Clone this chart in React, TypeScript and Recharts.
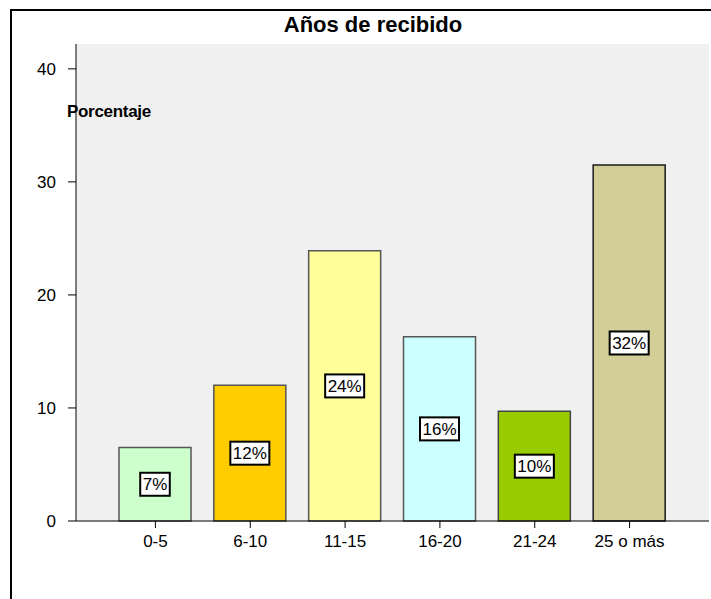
import { BarChart, Bar, XAxis, YAxis, CartesianGrid, Cell, LabelList } from 'recharts';

const categories = ['0-5', '6-10', '11-15', '16-20', '21-24', '25 o más'];
const percentages = [6.5, 12.0, 23.9, 16.3, 9.7, 31.5];
const barColors = ['#CCFFCC', '#FFCC00', '#FFFF99', '#CCFFFF', '#99CC00', '#D3CE97'];
const barStrokes = ['#555555', '#555555', '#555555', '#555555', '#444444', '#1a1a1a'];
const yTicks = [0, 10, 20, 30, 40];

const FONT = '"Liberation Sans", Arial, sans-serif';

const data = categories.map((name, i) => ({ name, value: percentages[i] }));

// white boxed percentage in the middle of each bar
const BoxLabel = (props: any) => {
  const { x, y, width, height, value } = props;
  if (value === undefined) return null;
  const text = `${Math.round(Number(value))}%`;
  const textW = text.split('').reduce((w: number, c: string) => w + (c === '%' ? 15.1 : 9.45), 0);
  const boxW = textW + 5;
  const boxH = 23;
  const cx = Number(x) + Number(width) / 2;
  const cy = Number(y) + Number(height) / 2;
  return (
    <g>
      <rect x={cx - boxW / 2} y={cy - boxH / 2} width={boxW} height={boxH} fill="#fff" stroke="#000" strokeWidth={2} />
      <text x={cx} y={cy + 6} textAnchor="middle" fontFamily={FONT} fontSize={17} fill="#000">
        {text}
      </text>
    </g>
  );
};

export default function App() {
  return (
    <div style={{ position: 'absolute', left: 0, top: 0, width: 711, height: 599, overflow: 'hidden', background: '#fff' }}>
      {/* outer frame, runs off the right and bottom edges */}
      <div style={{ position: 'absolute', left: 10, top: 9, width: 720, height: 620, border: '2px solid #000' }} />
      <BarChart
        width={711}
        height={599}
        data={data}
        margin={{ top: 44, right: 2, bottom: 48, left: 0 }}
        style={{ position: 'absolute', left: 0, top: 0 }}
      >
        <CartesianGrid horizontal={false} vertical={false} fill="#F0F0F0" />
        <XAxis
          dataKey="name"
          padding={{ left: 32, right: 32 }}
          height={30}
          stroke="#000"
          tickSize={7}
          tickMargin={7}
          tick={{ fill: '#000', fontSize: 17, fontFamily: FONT }}
        />
        <XAxis xAxisId="top" orientation="top" dataKey="name" height={0} tick={false} tickLine={false} stroke="#777" />
        <YAxis
          domain={[0, 42.2]}
          ticks={yTicks}
          width={76}
          stroke="#000"
          tickSize={8}
          tickMargin={12}
          tick={{ fill: '#000', fontSize: 17, fontFamily: FONT }}
        />
        <YAxis yAxisId="right" orientation="right" width={0} tick={false} tickLine={false} stroke="#666" />
        <Bar dataKey="value" barSize={72} isAnimationActive={false}>
          {data.map((_, i) => (
            <Cell key={`cell-${i}`} fill={barColors[i]} stroke={barStrokes[i]} strokeWidth={1.5} />
          ))}
          <LabelList dataKey="value" content={<BoxLabel />} />
        </Bar>
      </BarChart>
      <div
        style={{ position: 'absolute', left: 173, width: 400, top: 12, textAlign: 'center', fontFamily: FONT, fontWeight: 'bold', fontSize: 22, lineHeight: '26px' }}
      >
        Años de recibido
      </div>
      <div
        style={{ position: 'absolute', left: 67, top: 102, fontFamily: FONT, fontWeight: 'bold', fontSize: 17, lineHeight: '20px', letterSpacing: -0.3 }}
      >
        Porcentaje
      </div>
    </div>
  );
}
